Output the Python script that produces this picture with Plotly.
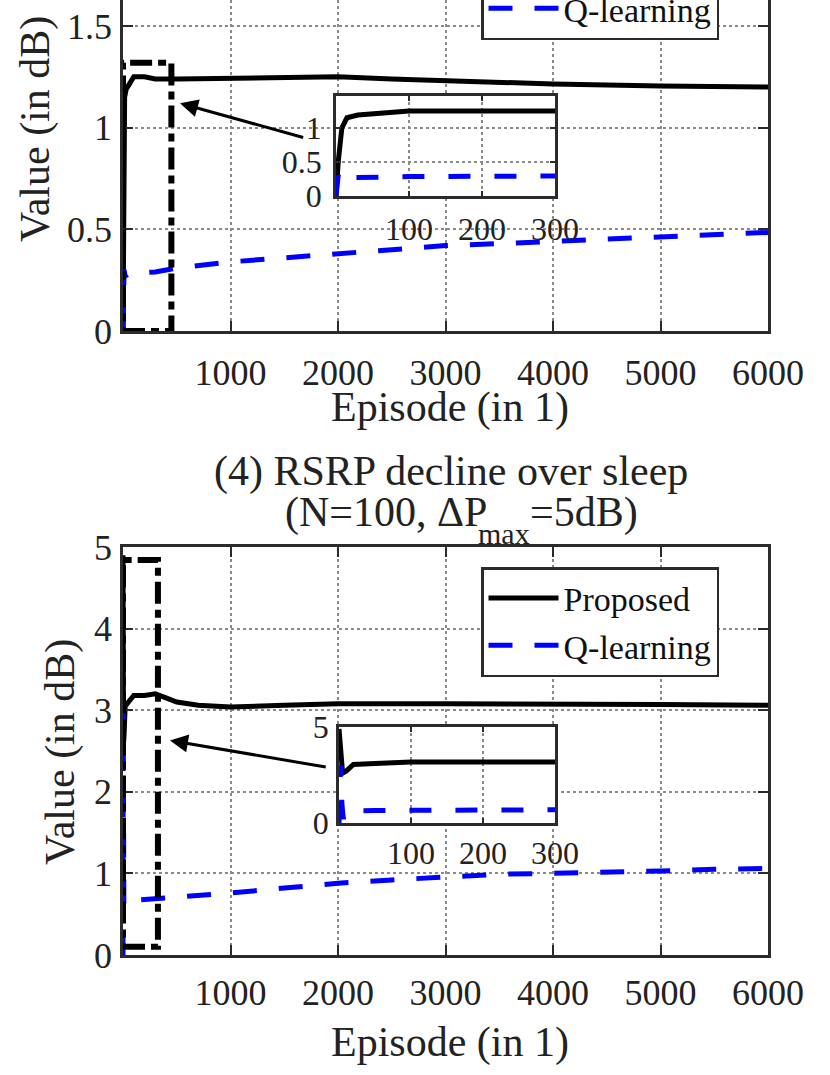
import plotly.graph_objects as go

W, H = 830, 1075

# ---- data ----
# upper panel
ep_top_prop = [0, 3, 8, 15, 30, 60, 100, 200, 300, 500, 1000, 1500, 2000, 2500, 3000, 3500, 4000, 5000, 6000]
val_top_prop = [0, 0.5, 1.0, 1.15, 1.19, 1.22, 1.25, 1.25, 1.24, 1.24, 1.245, 1.25, 1.25, 1.24, 1.23, 1.22, 1.215, 1.205, 1.2]
ep_top_q = [0, 3, 6, 10, 20, 50, 100, 200, 300, 500, 1000, 1500, 2000, 2500, 3000, 3500, 4000, 4500, 5000, 5500, 6000]
val_top_q = [0, 0.3, 0.22, 0.3, 0.27, 0.28, 0.285, 0.29, 0.29, 0.31, 0.34, 0.36, 0.38, 0.40, 0.42, 0.43, 0.44, 0.455, 0.465, 0.475, 0.485]

# lower panel (4) RSRP decline over sleep
ep_bot_prop = [0, 5, 10, 20, 50, 100, 200, 300, 400, 500, 700, 1000, 1500, 2000, 3000, 4000, 5000, 6000]
val_bot_prop = [4.9, 2.6, 2.7, 3.05, 3.1, 3.18, 3.18, 3.2, 3.15, 3.1, 3.06, 3.04, 3.06, 3.08, 3.08, 3.08, 3.07, 3.06]
ep_bot_q = [0, 2, 4, 6, 8, 15, 50, 100, 300, 500, 1000, 1500, 2000, 2500, 3000, 3500, 4000, 4500, 5000, 5500, 6000]
val_bot_q = [0, 3.0, 1.0, 0.2, 0.6, 0.62, 0.65, 0.67, 0.69, 0.70, 0.76, 0.82, 0.88, 0.92, 0.96, 0.99, 1.0, 1.01, 1.03, 1.05, 1.06]

x_ticks = [1000, 2000, 3000, 4000, 5000, 6000]
y_ticks_top = [0, 0.5, 1, 1.5]
y_ticks_bot = [0, 1, 2, 3, 4, 5]
inset_x_ticks = [100, 200, 300]
inset_y_ticks_top = [0, 0.5, 1]
inset_y_ticks_bot = [0, 5]

# zoom boxes (episode range, value range) and arrows (head, tail)
zoom_top = [0, 450, 0, 1.32]
zoom_bot = [0, 325, 0.1, 4.84]
arrow_top = [530, 1.12, 1690, 0.95]
arrow_bot = [437, 2.63, 1900, 2.30]

FONT = "Liberation Serif"
AX_COL = "#2b2b2b"
GRID_COL = "#8a8a8a"
BLUE = "#0000ff"

TOP_YMAX = 331 / 203.3


def px(x):
    return x / W


def py(y):
    return 1 - y / H


main_x_dom = [px(123), px(768)]
top_y_dom = [py(331), 1]
bot_y_dom = [py(955), py(547)]
ins_top_x = [px(336), px(555)]
ins_top_y = [py(196), py(96)]
ins_bot_x = [px(339), px(555)]
ins_bot_y = [py(823), py(727)]

fig = go.Figure()

# white patch (in main-axis units) under each inset, so the big grid stays hidden there
for xm, ym, xd, yd, ydom, ymax in [("x", "y", ins_top_x, ins_top_y, top_y_dom, TOP_YMAX),
                                  ("x3", "y3", ins_bot_x, ins_bot_y, bot_y_dom, 5)]:
    xs = [(v - main_x_dom[0]) / (main_x_dom[1] - main_x_dom[0]) * 6000 for v in xd]
    ys = [(v - ydom[0]) / (ydom[1] - ydom[0]) * ymax for v in yd]
    fig.add_trace(go.Scatter(x=[xs[0], xs[1], xs[1], xs[0], xs[0]],
                             y=[ys[0], ys[0], ys[1], ys[1], ys[0]],
                             fill="toself", fillcolor="white", mode="lines",
                             line=dict(width=0, color="white"), hoverinfo="skip",
                             showlegend=False, xaxis=xm, yaxis=ym))

panels = [
    ("x", "y", "x2", "y2", ep_top_prop, val_top_prop, ep_top_q, val_top_q, "legend"),
    ("x3", "y3", "x4", "y4", ep_bot_prop, val_bot_prop, ep_bot_q, val_bot_q, "legend2"),
]
for xm, ym, xi, yi, ep_p, v_p, ep_q, v_q, leg in panels:
    fig.add_trace(go.Scatter(x=ep_p, y=v_p, mode="lines", name="Proposed",
                             line=dict(color="black", width=5), xaxis=xm, yaxis=ym, legend=leg))
    fig.add_trace(go.Scatter(x=ep_q, y=v_q, mode="lines", name="Q-learning",
                             line=dict(color=BLUE, width=5, dash="24px,22px"),
                             xaxis=xm, yaxis=ym, legend=leg))
    fig.add_trace(go.Scatter(x=ep_p, y=v_p, mode="lines", showlegend=False,
                             line=dict(color="black", width=5), xaxis=xi, yaxis=yi))
    fig.add_trace(go.Scatter(x=ep_q, y=v_q, mode="lines", showlegend=False,
                             line=dict(color=BLUE, width=5, dash="22px,24px"),
                             xaxis=xi, yaxis=yi))

axis_common = dict(showline=True, linecolor=AX_COL, linewidth=2.5, ticks="inside",
                   tickcolor=AX_COL, tickwidth=2, showgrid=True, gridcolor=GRID_COL,
                   gridwidth=2, griddash="dot", zeroline=False,
                   tickfont=dict(family=FONT, size=36, color="#222"))
inset_font = dict(family=FONT, size=32, color="#222")

fig.update_layout(
    xaxis=dict(axis_common, domain=main_x_dom, range=[0, 6000], tickvals=x_ticks,
               ticklen=10, mirror=False, anchor="y", ticklabelstandoff=8),
    yaxis=dict(axis_common, domain=top_y_dom, range=[0, TOP_YMAX], tickvals=y_ticks_top,
               ticklen=10, mirror="ticks", anchor="x", ticklabelstandoff=1),
    xaxis3=dict(axis_common, domain=main_x_dom, range=[0, 6000], tickvals=x_ticks,
                ticklen=10, mirror="ticks", anchor="y3", ticklabelstandoff=4),
    yaxis3=dict(axis_common, domain=bot_y_dom, range=[0, 5], tickvals=y_ticks_bot,
                ticklen=10, mirror="ticks", anchor="x3", ticklabelstandoff=1),
    xaxis2=dict(axis_common, domain=ins_top_x, range=[0, 300], tickvals=inset_x_ticks,
                ticklen=5, mirror="ticks", anchor="y2", ticklabelstandoff=3,
                tickfont=inset_font),
    yaxis2=dict(axis_common, domain=ins_top_y, range=[0, 1.47], tickvals=inset_y_ticks_top,
                ticklen=5, mirror="ticks", anchor="x2", ticklabelstandoff=5,
                tickfont=inset_font),
    xaxis4=dict(axis_common, domain=ins_bot_x, range=[0, 300], tickvals=inset_x_ticks,
                ticklen=5, mirror="ticks", anchor="y4", ticklabelstandoff=0,
                tickfont=inset_font),
    yaxis4=dict(axis_common, domain=ins_bot_y, range=[0, 5], tickvals=inset_y_ticks_bot,
                ticklen=5, mirror="ticks", anchor="x4", ticklabelstandoff=1,
                tickfont=inset_font),
)

legend_common = dict(x=px(481), xanchor="left", bgcolor="white", bordercolor=AX_COL,
                     borderwidth=2.5, font=dict(family=FONT, size=34, color="#111"),
                     itemwidth=70, tracegroupgap=0)
fig.update_layout(
    legend=dict(legend_common, y=py(40), yanchor="bottom"),
    legend2=dict(legend_common, y=py(567), yanchor="top"),
)

# dash-dot zoom boxes
for xm, ym, z in [("x", "y", zoom_top), ("x3", "y3", zoom_bot)]:
    fig.add_shape(type="rect", xref=xm, yref=ym, x0=z[0], x1=z[1], y0=z[2], y1=z[3],
                  line=dict(color="black", width=6, dash="22px,6px,8px,6px"))

# arrows
for xm, ym, a in [("x", "y", arrow_top), ("x3", "y3", arrow_bot)]:
    fig.add_annotation(x=a[0], y=a[1], ax=a[2], ay=a[3], xref=xm, yref=ym,
                       axref=xm, ayref=ym, text="", showarrow=True,
                       arrowhead=2, arrowsize=1.2, arrowwidth=3, arrowcolor="black")

txt = dict(family=FONT, size=42, color="#222")


def label(x, y, text, font=txt, xanchor="center", angle=0):
    fig.add_annotation(x=px(x), y=py(y), xref="paper", yref="paper", text=text,
                       xanchor=xanchor, yanchor="middle", textangle=angle,
                       showarrow=False, font=font)


label(450, 407, "Episode (in 1)")
label(450, 1042, "Episode (in 1)")
label(35, 129, "Value (in dB)", angle=-90)
label(60, 752, "Value (in dB)", angle=-90)
label(451, 472, "(4) RSRP decline over sleep")
label(489, 512, "(N=100, \u0394P", xanchor="right")
label(476, 533, "max", font=dict(family=FONT, size=30, color="#222"), xanchor="left")
label(528, 512, "=5dB)", xanchor="left")

fig.update_layout(width=W, height=H, autosize=False,
                  margin=dict(l=0, r=0, t=0, b=0, pad=0, autoexpand=False),
                  paper_bgcolor="white", plot_bgcolor="white")

fig.write_html("out.html", config={"displayModeBar": False},
               post_script="document.body.style.margin='0';")
